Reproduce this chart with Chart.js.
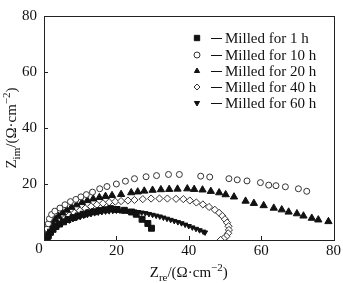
<!DOCTYPE html>
<html>
<head>
<meta charset="utf-8">
<script src="https://cdn.jsdelivr.net/npm/chart.js@4"></script>
<style>
html, body { margin: 0; padding: 0; background: #fff; }
</style>
</head>
<body>
<canvas id="myChart" width="343" height="283"></canvas>
<script>
// tick labels
var xTicks = [0, 20, 40, 60, 80];
var yTicks = [0, 20, 40, 60, 80];

var seriesNames = ['Milled for 1 h', 'Milled for 10 h', 'Milled for 20 h', 'Milled for 40 h', 'Milled for 60 h'];

// Zre / Zim
var re1h = [0.8, 1.2, 1.8, 2.5, 3.3, 4.3, 5.4, 6.6, 8.0, 9.4, 10.8, 12.3, 13.8, 15.3, 16.8, 18.4, 20.2, 22.2, 24.2, 25.5, 27.1, 28.7, 29.7];
var im1h = [0.4, 1.6, 2.8, 3.8, 4.8, 5.7, 6.5, 7.3, 8.0, 8.6, 9.2, 9.7, 10.1, 10.5, 10.8, 11.2, 10.9, 10.6, 10.0, 9.2, 7.4, 5.9, 4.2];

var re10h = [0.4, 0.6, 0.9, 1.2, 1.5, 2.1, 3.0, 4.4, 5.8, 7.3, 8.8, 10.2, 11.7, 13.4, 15.4, 17.4, 20.0, 22.5, 25.0, 28.2, 31.1, 34.4, 37.4, 43.3, 45.8, 51.1, 53.4, 56.1, 59.8, 62.1, 64.1, 66.7, 70.3, 72.6];
var im10h = [0.6, 2.2, 4.0, 5.8, 7.6, 9.1, 10.3, 11.4, 12.6, 13.7, 14.5, 15.4, 16.2, 17.1, 18.3, 19.1, 20.0, 21.0, 21.9, 22.6, 23.0, 23.4, 23.4, 22.8, 22.5, 21.9, 21.5, 21.1, 20.5, 19.6, 19.4, 19.0, 18.3, 17.4];

var re20h = [0.5, 1.0, 1.6, 2.3, 3.1, 4.0, 5.1, 6.3, 7.6, 9.0, 10.5, 12.0, 13.6, 15.3, 17.0, 18.8, 21.3, 24.1, 25.9, 27.7, 30.0, 32.3, 34.6, 36.9, 39.6, 41.5, 43.8, 46.1, 48.4, 50.2, 52.5, 55.7, 58.0, 60.7, 63.5, 65.7, 67.6, 69.9, 71.7, 74.0, 75.8, 78.6];
var im20h = [1.0, 2.8, 4.5, 6.0, 7.3, 8.5, 9.7, 10.7, 11.7, 12.6, 13.4, 14.1, 14.7, 15.2, 15.6, 15.9, 16.3, 16.9, 17.2, 17.5, 17.8, 18.0, 18.1, 18.2, 18.3, 18.1, 17.9, 17.4, 16.9, 16.2, 15.4, 13.9, 13.1, 12.3, 11.4, 10.8, 10.0, 9.4, 8.6, 7.8, 7.2, 6.6];

var re40h = [1.0, 1.4, 2.0, 2.8, 3.7, 4.7, 5.8, 7.0, 8.4, 9.9, 11.4, 13.0, 14.6, 16.3, 18.0, 19.7, 21.3, 23.2, 25.0, 27.3, 29.6, 31.9, 34.1, 36.5, 38.5, 40.3, 42.1, 43.9, 45.6, 47.2, 48.4, 49.3, 50.0, 50.6, 51.0, 51.1, 50.9, 50.4, 49.6, 48.8];
var im40h = [0.4, 1.8, 3.2, 4.5, 5.7, 6.8, 7.8, 8.8, 9.7, 10.5, 11.3, 12.0, 12.6, 13.1, 13.5, 13.7, 13.9, 14.1, 14.3, 14.6, 14.8, 14.8, 14.8, 14.7, 14.6, 14.1, 13.4, 12.7, 11.8, 10.8, 9.7, 8.6, 7.4, 6.2, 4.9, 3.6, 2.4, 1.3, 0.5, 0.0];

var re60h = [0.5, 1, 1.5, 2, 2.5, 3, 3.5, 4, 5, 6, 7, 8, 9, 10, 11, 12, 13, 14, 15, 16, 17, 18, 19, 20, 21, 22, 23, 24, 25, 26, 27, 28, 29, 30, 31, 32, 33, 34, 35, 36, 37, 38, 39, 40, 41, 42, 43, 44, 44.5];
var im60h = [0.5, 1.5, 2.5, 3.2, 3.8, 4.3, 4.8, 5.2, 5.9, 6.5, 7.0, 7.5, 7.9, 8.3, 8.7, 9.0, 9.3, 9.6, 9.8, 10.0, 10.2, 10.3, 10.4, 10.5, 10.5, 10.5, 10.4, 10.3, 10.2, 10.0, 9.8, 9.6, 9.3, 9.0, 8.7, 8.4, 8.0, 7.6, 7.2, 6.8, 6.4, 6.0, 5.5, 5.0, 4.5, 4.0, 3.5, 3.0, 2.7];

function pts(xs, ys) {
    return xs.map(function (x, i) { return { x: x, y: ys[i] }; });
}

var serif = "'Liberation Serif', 'Times New Roman', serif";

// marker styles: filled or open
var marks = [
    { style: 'rect', r: 4.2, rot: 0, fill: '#111', open: false },
    { style: 'circle', r: 3, rot: 0, fill: '#fff', open: true },
    { style: 'triangle', r: 4.2, rot: 0, fill: '#111', open: false },
    { style: 'rectRot', r: 3.6, rot: 0, fill: '#fff', open: true },
    { style: 'triangle', r: 3, rot: 180, fill: '#111', open: false }
];

function drawMark(ctx, m, x, y, r) {
    ctx.beginPath();
    if (m.style === 'rect') {
        var s = r * Math.SQRT1_2;
        ctx.rect(x - s, y - s, 2 * s, 2 * s);
    } else if (m.style === 'circle') {
        ctx.arc(x, y, r, 0, Math.PI * 2);
    } else if (m.style === 'rectRot') {
        ctx.moveTo(x, y - r); ctx.lineTo(x + r, y); ctx.lineTo(x, y + r); ctx.lineTo(x - r, y);
        ctx.closePath();
    } else {
        var d = m.rot ? -1 : 1;
        var c = r * Math.cos(Math.PI / 6);
        ctx.moveTo(x, y - d * r); ctx.lineTo(x + c, y + d * r / 2); ctx.lineTo(x - c, y + d * r / 2);
        ctx.closePath();
    }
    ctx.fillStyle = m.fill;
    ctx.fill();
    ctx.strokeStyle = m.open ? '#333' : '#111';
    ctx.lineWidth = 1;
    ctx.stroke();
}

var framePlugin = {
    id: 'frame',
    afterDraw: function (chart) {
        var ctx = chart.ctx, a = chart.chartArea;
        var sx = chart.scales.x, sy = chart.scales.y;
        ctx.save();
        ctx.strokeStyle = '#222';
        ctx.lineWidth = 1;
        ctx.strokeRect(Math.round(a.left) + 0.5, Math.round(a.top) + 0.5, Math.round(a.right - a.left), Math.round(a.bottom - a.top));
        ctx.beginPath();
        xTicks.forEach(function (v) {
            var px = Math.round(sx.getPixelForValue(v)) + 0.5;
            ctx.moveTo(px, a.bottom); ctx.lineTo(px, a.bottom - 4);
        });
        yTicks.forEach(function (v) {
            var py = Math.round(sy.getPixelForValue(v)) + 0.5;
            ctx.moveTo(a.left, py); ctx.lineTo(a.left + 4, py);
        });
        ctx.stroke();

        // shared origin label, sits in the corner
        ctx.font = '15px ' + serif;
        ctx.fillStyle = '#111';
        ctx.textAlign = 'center';
        ctx.textBaseline = 'middle';
        ctx.fillText(String(xTicks[0]), a.left - 5, a.bottom + 9);

        // legend
        ctx.textAlign = 'left';
        var rows = [38, 55, 71, 87, 103];
        seriesNames.forEach(function (name, i) {
            var m = marks[i];
            drawMark(ctx, m, 197, rows[i], m.style === 'rect' ? 3.8 : 3);
            ctx.beginPath();
            ctx.strokeStyle = '#111';
            ctx.moveTo(211, rows[i] + 0.5); ctx.lineTo(222, rows[i] + 0.5);
            ctx.stroke();
            ctx.fillStyle = '#111';
            ctx.fillText(name, 225, rows[i] + 1);
        });

        // axis titles with sub/superscripts
        function titleParts(sub) {
            return [
                { t: 'Z', f: 15, dy: 0 },
                { t: sub, f: 11, dy: 4 },
                { t: '/(\u03A9\u00B7cm', f: 15, dy: 0 },
                { t: '\u22122', f: 11, dy: -6 },
                { t: ')', f: 15, dy: 0 }
            ];
        }
        function drawParts(parts, cx, cy) {
            var w = 0;
            parts.forEach(function (p) { ctx.font = p.f + 'px ' + serif; p.w = ctx.measureText(p.t).width; w += p.w; });
            var x = cx - w / 2;
            parts.forEach(function (p) {
                ctx.font = p.f + 'px ' + serif;
                ctx.fillText(p.t, x, cy + p.dy);
                x += p.w;
            });
        }
        ctx.fillStyle = '#111';
        ctx.textBaseline = 'alphabetic';
        drawParts(titleParts('re'), (a.left + a.right) / 2, 277);
        ctx.save();
        ctx.translate(16, (a.top + a.bottom) / 2);
        ctx.rotate(-Math.PI / 2);
        drawParts(titleParts('im'), 0, 0);
        ctx.restore();
        ctx.restore();
    }
};

var series = [[re1h, im1h], [re10h, im10h], [re20h, im20h], [re40h, im40h], [re60h, im60h]];

var chart1 = document.getElementById('myChart');
var myChart = new Chart(chart1, {
    type: 'scatter',
    data: {
        datasets: series.map(function (s, i) {
            var m = marks[i];
            return {
                label: seriesNames[i],
                data: pts(s[0], s[1]),
                pointStyle: m.style,
                pointRotation: m.rot,
                pointRadius: m.r,
                pointHoverRadius: m.r,
                pointBackgroundColor: m.fill,
                pointBorderColor: m.open ? '#333' : '#111',
                pointBorderWidth: 1,
                showLine: false
            };
        })
    },
    options: {
        responsive: false,
        animation: false,
        events: [],
        layout: { padding: { left: 0, right: 8, top: 6, bottom: 0 } },
        plugins: {
            legend: { display: false },
            tooltip: { enabled: false }
        },
        scales: {
            x: {
                type: 'linear',
                min: 0,
                max: 80,
                afterBuildTicks: function (scale) { scale.ticks = xTicks.map(function (v) { return { value: v }; }); },
                afterFit: function (scale) { scale.height = 43; },
                grid: { display: false, drawTicks: false },
                border: { display: false },
                ticks: {
                    padding: 2, color: '#111', font: { family: serif, size: 15 }, maxRotation: 0,
                    callback: function (v) { return v === 0 ? '' : v; }
                }
            },
            y: {
                type: 'linear',
                min: 0,
                max: 80,
                afterBuildTicks: function (scale) { scale.ticks = yTicks.map(function (v) { return { value: v }; }); },
                afterFit: function (scale) { scale.width = 44; },
                grid: { display: false, drawTicks: false },
                border: { display: false },
                ticks: {
                    padding: 7, color: '#111', font: { family: serif, size: 15 },
                    callback: function (v) { return v === 0 ? '' : v; }
                }
            }
        }
    },
    plugins: [framePlugin]
});
</script>
</body>
</html>
